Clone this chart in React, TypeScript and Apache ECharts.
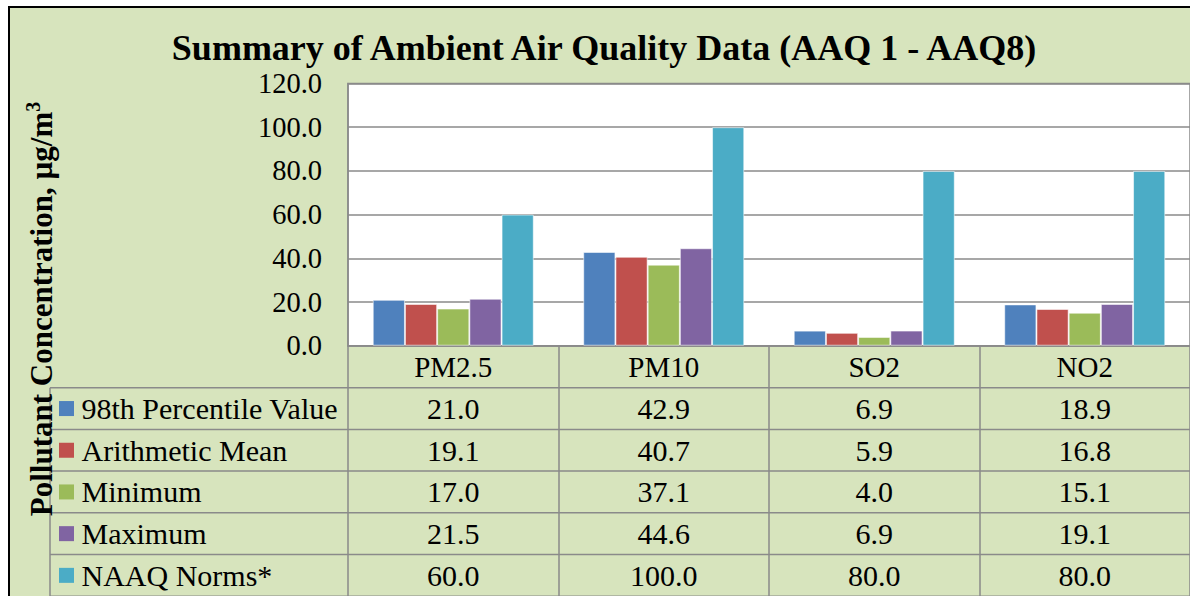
import React, { useEffect, useRef } from 'react';
import * as echarts from 'echarts';

const categories = ['PM2.5', 'PM10', 'SO2', 'NO2'];
const seriesNames = ['98th Percentile Value', 'Arithmetic Mean', 'Minimum', 'Maximum', 'NAAQ Norms*'];
const percentile98 = [21.0, 42.9, 6.9, 18.9];
const arithmeticMean = [19.1, 40.7, 5.9, 16.8];
const minimum = [17.0, 37.1, 4.0, 15.1];
const maximum = [21.5, 44.6, 6.9, 19.1];
const naaqNorms = [60.0, 100.0, 80.0, 80.0];
const seriesColors = ['#4f81bd', '#c0504d', '#9bbb59', '#8064a2', '#4bacc6'];
const yMin = 0;
const yMax = 120;
const yStep = 20;
const titleText = 'Summary of Ambient Air Quality Data (AAQ 1 - AAQ8)';
const yTitleMain = 'Pollutant Concentration, µg/m';
const yTitleSup = '3';

const seriesData = [percentile98, arithmeticMean, minimum, maximum, naaqNorms];

const SERIF = '"Liberation Serif", "Times New Roman", serif';
const GRAY = '#8a8a8a';
const BG = '#d7e4bd';

// layout (pixels)
const W = 1190;
const H = 596;
const PLOT_LEFT = 348;
const PLOT_TOP = 83.5;
const AXIS_Y = 345.7;
const HEADER_H = 42;
const ROW_H = 41.7;
const TABLE_LEFT = 50;
const FAR_RIGHT = 1200;

export default function App() {
  const ref = useRef<HTMLDivElement>(null);

  useEffect(() => {
    if (!ref.current) return;
    const chart = echarts.init(ref.current, undefined, { renderer: 'svg' });

    const baseOption: any = {
      animation: false,
      backgroundColor: 'transparent',
      title: {
        text: titleText,
        left: 604,
        top: 30,
        padding: 0,
        textAlign: 'center',
        textStyle: { fontFamily: SERIF, fontSize: 36, fontWeight: 'bold', color: '#000', lineHeight: 36 },
      },
      grid: {
        left: PLOT_LEFT,
        top: PLOT_TOP,
        right: W - FAR_RIGHT,
        bottom: H - AXIS_Y,
        show: true,
        backgroundColor: '#ffffff',
        borderColor: GRAY,
        borderWidth: 1.5,
        containLabel: false,
      },
      xAxis: {
        type: 'category',
        data: categories,
        axisLine: { show: true, lineStyle: { color: GRAY, width: 1.5 } },
        axisTick: { show: true, length: 260, lineStyle: { color: GRAY, width: 1.5 } },
        axisLabel: {
          fontFamily: SERIF,
          fontSize: 29,
          color: '#000',
          margin: 0,
          lineHeight: HEADER_H,
        },
        splitLine: { show: false },
      },
      yAxis: {
        type: 'value',
        min: yMin,
        max: yMax,
        interval: yStep,
        axisLine: { show: true, lineStyle: { color: GRAY, width: 1.5 } },
        axisTick: { show: false },
        axisLabel: {
          fontFamily: SERIF,
          fontSize: 28.5,
          color: '#000',
          margin: 26,
          formatter: (v: number) => v.toFixed(1),
        },
        splitLine: { show: true, lineStyle: { color: GRAY, width: 1.5 } },
      },
      series: seriesNames.map((name, i) => ({
        type: 'bar',
        name,
        data: seriesData[i],
        barGap: '0%',
        barCategoryGap: '23.5%',
        itemStyle: { color: seriesColors[i], borderColor: 'rgba(255,255,255,0.55)', borderWidth: 1 },
      })),
    };

    chart.setOption(baseOption);

    const centers = categories.map((c) => chart.convertToPixel({ xAxisIndex: 0 }, c) as number);

    const graphics: any[] = [];
    const tableTop = AXIS_Y + HEADER_H;
    // horizontal row lines
    for (let k = 0; k < seriesNames.length + 1; k++) {
      const y = tableTop + k * ROW_H;
      graphics.push({
        type: 'line',
        shape: { x1: TABLE_LEFT, y1: y, x2: FAR_RIGHT, y2: y },
        style: { stroke: GRAY, lineWidth: 1.5 },
        silent: true,
      });
    }
    // left vertical line of legend column
    graphics.push({
      type: 'line',
      shape: { x1: TABLE_LEFT, y1: tableTop, x2: TABLE_LEFT, y2: H + 10 },
      style: { stroke: GRAY, lineWidth: 1.5 },
      silent: true,
    });
    // legend keys and values
    seriesNames.forEach((name, k) => {
      const cy = tableTop + k * ROW_H + ROW_H / 2;
      graphics.push({
        type: 'rect',
        shape: { x: 59, y: cy - 7.5, width: 15, height: 15 },
        style: { fill: seriesColors[k] },
        silent: true,
      });
      graphics.push({
        type: 'text',
        x: 81.5,
        y: cy,
        style: {
          text: name,
          fontFamily: SERIF,
          fontSize: 30,
          fill: '#000',
          textAlign: 'left',
          textVerticalAlign: 'middle',
        },
        silent: true,
      });
      seriesData[k].forEach((v, j) => {
        graphics.push({
          type: 'text',
          x: centers[j],
          y: cy,
          style: {
            text: v.toFixed(1),
            fontFamily: SERIF,
            fontSize: 30,
            fill: '#000',
            textAlign: 'center',
            textVerticalAlign: 'middle',
          },
          silent: true,
        });
      });
    });
    // y-axis title (rotated)
    graphics.push({
      type: 'text',
      x: 40,
      y: 309,
      rotation: Math.PI / 2,
      style: {
        text: '{a|' + yTitleMain + '}{b|' + yTitleSup + '}',
        textAlign: 'center',
        textVerticalAlign: 'middle',
        rich: {
          a: { fontFamily: SERIF, fontSize: 31, fontWeight: 'bold', fill: '#000', lineHeight: 34, verticalAlign: 'bottom' },
          b: { fontFamily: SERIF, fontSize: 20, fontWeight: 'bold', fill: '#000', lineHeight: 34, verticalAlign: 'top' },
        },
      },
      silent: true,
    });

    chart.setOption({ graphic: graphics });

    return () => {
      chart.dispose();
    };
  }, []);

  return (
    <div style={{ position: 'fixed', left: 0, top: 0, width: W, height: H, background: '#fff', overflow: 'hidden' }}>
      <div
        style={{
          position: 'absolute',
          left: 8,
          top: 6,
          width: W + 20,
          height: H + 20,
          background: BG,
          borderLeft: '2px solid #000',
          borderTop: '2px solid #000',
        }}
      />
      <div ref={ref} style={{ position: 'absolute', left: 0, top: 0, width: W, height: H }} />
    </div>
  );
}
